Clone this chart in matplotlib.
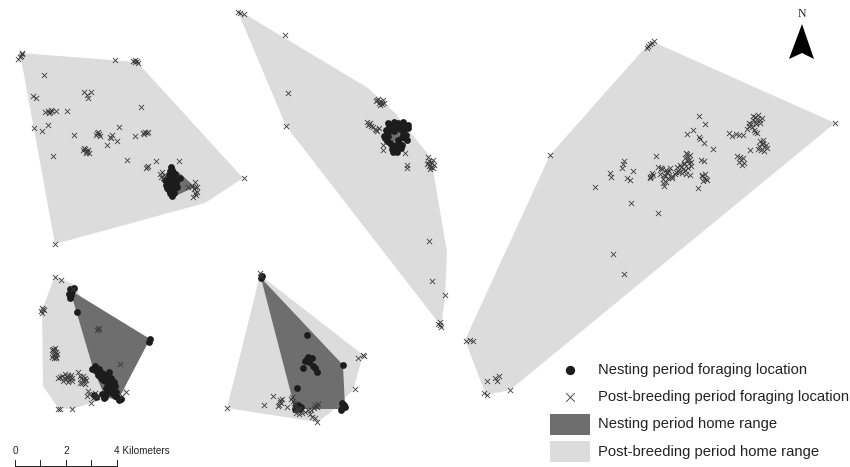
import matplotlib
matplotlib.use('Agg')
import matplotlib.pyplot as plt
from matplotlib.patches import Polygon

plt.rcParams['font.family'] = ['Liberation Sans', 'DejaVu Sans']

LIGHT = '#dcdcdc'
DARK = '#6e6e6e'
INK = '#222222'

# map coordinates
# post-breeding home ranges
post_ranges = [
    [(20, 53), (137, 62), (243, 178), (205, 203), (55, 244)],
    [(238, 12), (243, 13), (368, 88), (395, 113), (431, 158), (447, 252), (445, 298), (441, 326), (286, 126)],
    [(651, 41), (835, 123), (510, 390), (486, 395), (465, 340), (550, 155)],
    [(55, 276), (75, 285), (127, 392), (72, 409), (58, 408), (43, 386), (42, 310)],
    [(260, 275), (363, 355), (353, 390), (330, 413), (317, 422), (227, 408)],
]
# nesting home ranges
nest_ranges = [
    [(171, 166), (183, 176), (195, 187), (173, 197), (165, 182)],
    [(390, 133), (400, 132), (399, 142), (390, 141)],
    [(70, 290), (150, 339), (118, 400), (105, 397), (93, 368)],
    [(261, 278), (343, 365), (345, 407), (342, 409), (295, 409)],
]

post_x1 = [22, 20, 22, 18, 21, 115, 133, 135, 137, 138, 135, 44, 33, 36, 84, 91, 87, 88, 141, 45, 48, 50, 51,
           52, 49, 56, 67, 34, 42, 48, 74, 97, 99, 98, 100, 96, 119, 112, 111, 110, 117, 107, 135, 143, 145,
           147, 148, 144, 83, 85, 86, 87, 88, 84, 86, 89, 53, 127, 156, 179, 147, 148, 146, 244, 55, 160, 162,
           164, 161, 163, 195, 188, 192, 195, 197, 194, 195, 196, 193, 197]
post_y1 = [53, 57, 54, 59, 56, 60, 61, 62, 61, 63, 60, 75, 96, 98, 92, 92, 95, 98, 107, 112, 111, 112, 110,
           111, 113, 111, 111, 128, 131, 125, 135, 133, 134, 132, 136, 135, 127, 135, 138, 137, 141, 145, 136,
           133, 132, 133, 132, 134, 150, 149, 151, 152, 150, 148, 153, 153, 156, 160, 161, 161, 167, 166, 168,
           178, 244, 174, 172, 175, 177, 178, 182, 187, 186, 187, 187, 189, 193, 195, 197, 192]
nest_x1 = [171, 170, 172, 169, 173, 168, 171, 174, 167, 170, 173, 169, 172, 175, 171, 168, 173, 170, 174, 172, 176,
           180, 166, 175, 177, 165, 172, 169, 174, 171, 167, 176, 170, 173]
nest_y1 = [167, 171, 172, 175, 176, 179, 179, 180, 182, 183, 184, 186, 187, 185, 190, 189, 191, 193, 193, 196, 181,
           178, 185, 174, 187, 180, 170, 178, 189, 194, 188, 183, 191, 177]

post_x2 = [240, 244, 238, 285, 288, 286, 377, 380, 383, 379, 382, 381, 369, 370, 368, 376, 377, 375, 383, 383, 405,
           407, 407, 428, 433, 430, 429, 431, 432, 429, 429, 432, 445, 440, 440, 441, 438, 378, 380, 384, 376, 367,
           371, 379, 373, 428, 431, 433, 427, 430, 434]
post_y2 = [13, 14, 12, 35, 93, 126, 100, 101, 100, 103, 104, 102, 124, 123, 125, 130, 131, 129, 145, 150, 153,
           165, 168, 157, 160, 165, 166, 167, 163, 161, 241, 281, 295, 322, 325, 327, 324, 99, 105, 103, 101, 122,
           126, 128, 127, 163, 162, 168, 164, 169, 165]
nest_x2 = [388, 403, 408, 390, 398, 403, 407, 402, 395, 397, 390, 385, 392, 398, 386, 394, 400, 405, 396, 388, 392,
           391, 394, 387, 402, 406, 399, 393, 384, 389, 395, 404, 400, 391, 396, 408, 401, 387, 398, 393, 402]
nest_y2 = [123, 122, 128, 130, 127, 133, 140, 145, 148, 152, 143, 138, 126, 140, 130, 122, 124, 138, 145, 136, 149,
           128, 131, 134, 126, 135, 143, 146, 136, 126, 125, 130, 129, 144, 151, 125, 148, 141, 123, 152, 137]

post_x3 = [55, 61, 73, 42, 41, 43, 42, 44, 98, 97, 99, 120, 53, 55, 54, 56, 53, 55, 54, 56, 60, 58, 62, 64, 68, 66,
           70, 72, 69, 78, 83, 81, 84, 82, 85, 88, 89, 87, 91, 60, 58, 72, 126, 122, 52, 57, 54, 56, 52, 65, 67, 71,
           63, 68, 72, 80, 86, 83, 80, 85, 95, 93, 97]
post_y3 = [277, 280, 289, 308, 311, 309, 313, 310, 329, 330, 328, 364, 349, 348, 352, 352, 355, 355, 358, 357, 377,
           378, 376, 378, 375, 379, 377, 378, 380, 372, 379, 378, 381, 383, 378, 391, 394, 396, 403, 409, 409, 409,
           392, 396, 350, 354, 350, 358, 357, 374, 377, 375, 381, 382, 381, 376, 380, 376, 383, 384, 393, 398, 397]
nest_x3 = [70, 72, 71, 70, 77, 150, 149, 94, 96, 98, 101, 103, 105, 108, 110, 112, 112, 105, 110, 107, 105, 106,
           117, 115, 119, 94, 96, 113, 92, 95, 99, 102, 107, 109, 111, 114, 115, 103, 108, 112, 109, 106, 102, 121,
           74, 69, 116, 104]
nest_y3 = [289, 291, 295, 298, 312, 339, 342, 368, 371, 375, 378, 380, 375, 385, 380, 388, 384, 395, 389, 392, 397,
           393, 397, 396, 400, 395, 397, 384, 369, 366, 369, 373, 383, 377, 378, 382, 386, 377, 392, 393, 372, 388,
           394, 399, 288, 294, 392, 398]

post_x4 = [648, 650, 652, 654, 647, 835, 550, 699, 705, 693, 687, 699, 700, 704, 713, 729, 732, 736, 739, 743,
           757, 755, 760, 752, 749, 754, 756, 762, 760, 764, 767, 764, 750, 741, 739, 743, 688, 687, 689, 701, 704,
           656, 658, 661, 624, 623, 622, 610, 611, 633, 627, 630, 595, 631, 658, 651, 650, 653, 667, 665, 669, 672,
           663, 664, 676, 683, 681, 685, 688, 679, 691, 704, 702, 706, 698, 613, 624, 466, 470, 473, 484, 487, 487,
           495, 499, 497, 510, 753, 758, 762, 756, 760, 751, 747, 755, 757, 749, 753, 759, 763, 766, 758, 761, 763,
           737, 740, 744, 742, 686, 690, 691, 685, 689, 684, 687, 678, 682, 686, 677, 680, 684, 690, 675, 662, 666,
           670, 664, 668, 672, 660, 663, 667, 671, 661, 666, 702, 705, 707, 703, 650, 652]
post_y4 = [46, 44, 43, 41, 48, 123, 155, 116, 124, 130, 134, 137, 139, 143, 149, 133, 136, 134, 135, 135,
           119, 117, 120, 127, 126, 130, 124, 144, 141, 147, 148, 151, 150, 160, 162, 158, 157, 154, 160, 160, 161,
           156, 167, 168, 161, 164, 168, 173, 177, 171, 178, 180, 187, 203, 213, 176, 177, 175, 173, 176, 171, 178,
           183, 186, 172, 169, 167, 170, 168, 172, 166, 178, 176, 179, 188, 254, 274, 341, 340, 341, 393, 395, 381,
           378, 376, 381, 390, 116, 115, 118, 122, 123, 124, 129, 132, 133, 123, 120, 146, 143, 145, 149, 150, 140,
           156, 157, 163, 165, 153, 155, 162, 158, 163, 164, 160, 171, 173, 174, 167, 165, 163, 175, 174, 169, 170,
           168, 175, 178, 176, 174, 179, 172, 177, 168, 182, 175, 174, 180, 181, 178, 173]

post_x5 = [260, 261, 358, 364, 363, 355, 227, 264, 273, 280, 279, 281, 280, 292, 293, 295, 287, 295, 296, 302, 308,
           316, 315, 317, 310, 312, 315, 317, 298, 300, 294, 291, 297, 299, 278, 282, 314, 318, 305, 311]
post_y5 = [273, 276, 358, 356, 355, 389, 408, 405, 396, 402, 405, 403, 400, 397, 401, 405, 407, 410, 413, 413, 410,
           406, 405, 407, 414, 417, 418, 422, 411, 408, 403, 399, 409, 414, 406, 399, 408, 404, 412, 410]
nest_x5 = [261, 307, 307, 308, 312, 313, 303, 317, 343, 297, 298, 296, 300, 342, 342, 345, 341, 309, 305, 315, 298,
           301, 295, 344, 262]
nest_y5 = [278, 335, 359, 357, 358, 366, 368, 372, 365, 388, 408, 406, 409, 403, 408, 407, 410, 362, 361, 368, 405,
           407, 409, 405, 276]

post_x = post_x1 + post_x2 + post_x3 + post_x4 + post_x5
post_y = post_y1 + post_y2 + post_y3 + post_y4 + post_y5
nest_x = nest_x1 + nest_x2 + nest_x3 + nest_x5
nest_y = nest_y1 + nest_y2 + nest_y3 + nest_y5

arrow = [(802, 24), (814, 59), (802, 53), (789, 59)]
scale_ticks = [15, 40, 66, 91, 117]
scale_labels = ['0', '2', '4 Kilometers']
legend_labels = ['Nesting period foraging location', 'Post-breeding period foraging location',
                 'Nesting period home range', 'Post-breeding period home range']

fig = plt.figure(figsize=(8.5, 4.67), dpi=100)
ax = fig.add_axes([0, 0, 1, 1])
ax.set_xlim(0, 850)
ax.set_ylim(467, 0)
ax.axis('off')

for p in post_ranges:
    ax.add_patch(Polygon(p, closed=True, fc=LIGHT, ec='none', zorder=1))
for p in nest_ranges:
    ax.add_patch(Polygon(p, closed=True, fc=DARK, ec='none', zorder=2))

ax.scatter(nest_x, nest_y, s=24, c='#1c1c1c', linewidths=0, zorder=3)
ax.scatter(post_x, post_y, s=14, c='#3a3a3a', marker='x', linewidths=0.6, zorder=4)

# north arrow
ax.add_patch(Polygon(arrow, closed=True, fc='black', ec='none', zorder=5))
ax.text(802, 14, 'N', ha='center', va='center', fontsize=8.5, family='Liberation Serif', color=INK)

# scale bar
ax.plot([scale_ticks[0], scale_ticks[-1]], [466, 466], c=INK, lw=0.7)
for t in scale_ticks:
    ax.plot([t, t], [460, 466], c=INK, lw=0.7)
ax.text(15, 451, scale_labels[0], ha='center', va='center', fontsize=7.2, color=INK)
ax.text(66, 451, scale_labels[1], ha='center', va='center', fontsize=7.2, color=INK)
ax.text(114, 451, scale_labels[2], ha='left', va='center', fontsize=7.2, color=INK)

# legend
ax.scatter([570], [370], s=45, c='#1c1c1c', linewidths=0)
ax.scatter([570], [397], s=38, c='#333333', marker='x', linewidths=0.6)
ax.add_patch(Polygon([(550, 414), (590, 414), (590, 435), (550, 435)], closed=True, fc=DARK, ec='none'))
ax.add_patch(Polygon([(550, 441), (590, 441), (590, 462), (550, 462)], closed=True, fc=LIGHT, ec='none'))
for y, lab in zip([370, 397, 424, 452], legend_labels):
    ax.text(598, y, lab, ha='left', va='center', fontsize=10.65, color=INK)

fig.savefig('out.png', dpi=100)
